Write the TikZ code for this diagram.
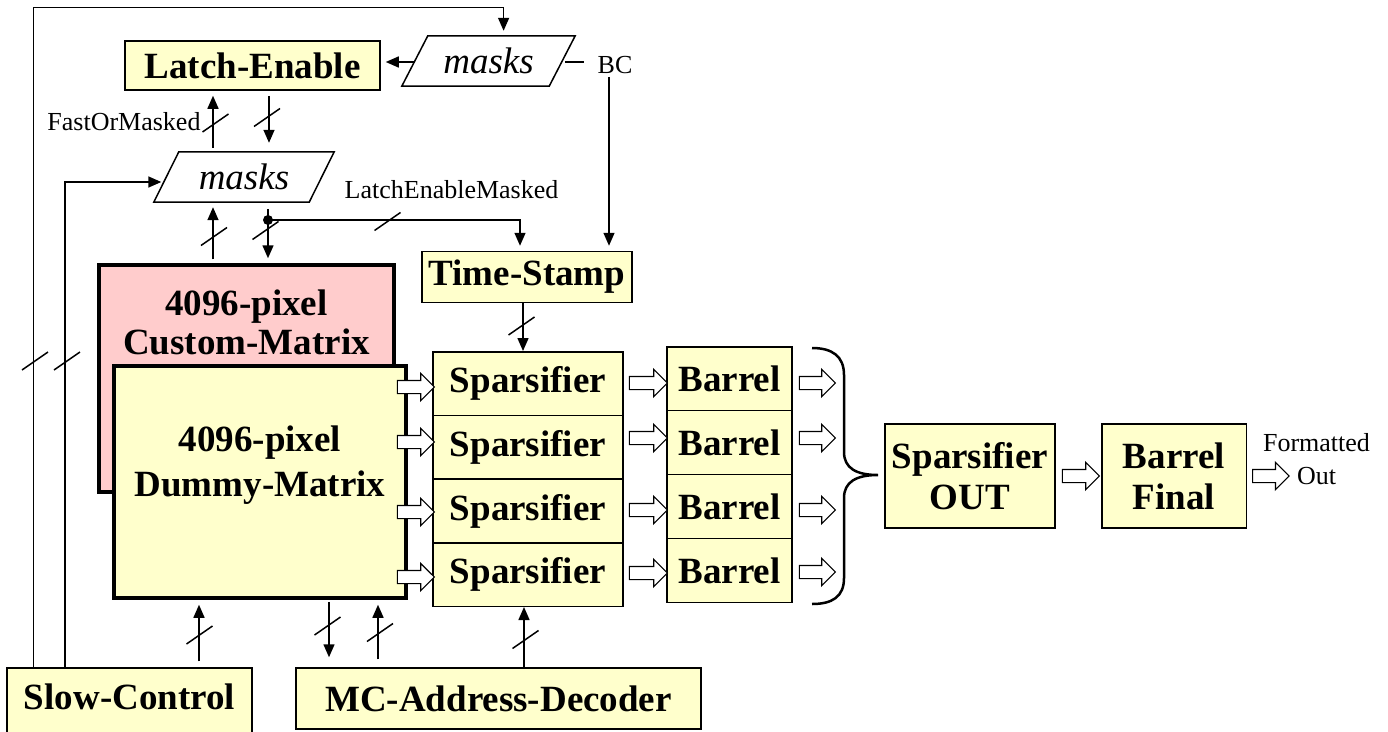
\documentclass[tikz,border=0pt]{standalone}
\usepackage{fontspec}
\setmainfont{Liberation Serif}
\usetikzlibrary{arrows.meta,shapes.arrows,calc}
\definecolor{yfill}{HTML}{FFFFCC}
\definecolor{pfill}{HTML}{FFCCCC}
\begin{document}
\begin{tikzpicture}[x=1pt,y=-1pt,
 box/.style={draw=black, fill=yfill, line width=1.5pt, inner sep=0pt, align=center, font=\bfseries\fontsize{37}{41}\selectfont},
 bigbox/.style={draw=black, line width=3.5pt, inner sep=0pt},
 bigtxt/.style={font=\bfseries\fontsize{37}{#1}\selectfont, align=center, inner sep=0pt},
 txt/.style={font=\fontsize{26}{33}\selectfont, align=center, inner sep=0pt},
 mtxt/.style={font=\itshape\fontsize{37}{40}\selectfont, inner sep=0pt, minimum width=#1, minimum height=50pt},
 arr/.style={line width=1.5pt, -{Triangle[length=13pt,width=11pt]}, shorten >=5pt},
 ln/.style={line width=1.5pt},
 blk/.style={single arrow, draw=black, fill=white, line width=1.2pt, minimum height=#1, single arrow head extend=7pt, single arrow head indent=0pt, inner xsep=0pt, inner ysep=6pt, text height=0pt, text depth=0pt, anchor=west},
 sl/.pic={\draw[line width=1.5pt] (-13,9)--(13,-9);}
]
\useasboundingbox (0,0) rectangle (1388,731);

% boxes
\node[box, minimum width=255pt, minimum height=49pt] (le) at (252.5,65.5) {Latch-Enable};
\node[mtxt=147pt] (m1) at (488.5,61) {masks};
\draw[ln] ([xshift=-13pt]m1.south west) -- ([xshift=13pt]m1.north west) -- ([xshift=13pt]m1.north east) -- ([xshift=-13pt]m1.south east) -- cycle;
\node[mtxt=155pt] (m2) at (244,177) {masks};
\draw[ln] ([xshift=-12.5pt]m2.south west) -- ([xshift=12.5pt]m2.north west) -- ([xshift=12.5pt]m2.north east) -- ([xshift=-12.5pt]m2.south east) -- cycle;
\node[txt] (bc) at (615,65) {BC};
\node[box, minimum width=210pt, minimum height=51pt] (ts) at (527,277) {Time-Stamp};

\node[bigbox, fill=pfill, minimum width=295pt, minimum height=227pt] (cm) at (246.5,378.5) {};
\node[bigtxt=39] (cmt) at (246.5,322) {4096-pixel\\Custom-Matrix};
\node[bigbox, fill=yfill, minimum width=292pt, minimum height=232pt] (dm) at (260,482) {};
\node[bigtxt=45] (dmt) at (260,465.5) {4096-pixel\\Dummy-Matrix};

\foreach \i/\y in {1/383.5,2/447,3/511,4/574.5}
  \node[box, minimum width=190pt, minimum height=63.5pt] (sp\i) at (528,\y) {Sparsifier};
\foreach \i/\y in {1/379,2/442.5,3/506.5,4/570.5}
  \node[box, minimum width=125pt, minimum height=63.75pt] (b\i) at (729.5,\y) {Barrel};

\node[box, minimum width=170pt, minimum height=104pt] (spo) at (970,476) {Sparsifier\\OUT};
\node[box, minimum width=144.5pt, minimum height=104pt] (bf) at (1174,476) {Barrel\\Final};
\node[txt] (fo) at (1316.5,459.5) {Formatted\\Out};
\node[box, minimum width=245pt, minimum height=70pt, text depth=12pt] (sc) at (129.5,703) {Slow-Control};
\node[box, minimum width=405pt, minimum height=61pt] (mc) at (498.5,698.5) {MC-Address-Decoder};

% feedback lines from slow control
\draw[arr] (sc.north -| 33.5,0) |- (503.6,7.3) -- (m1.north -| 503.6,0);
\draw[arr] (sc.north -| 65,0) |- (m2.west |- 0,182);
\pic at (35,361) {sl};
\pic at (67,361) {sl};

% masks -> latch enable, BC
\draw[arr] (m1.west |- 0,62) -- (le.east |- 0,62);
\draw[ln, shorten <=3pt, shorten >=13pt] (m1.east |- 0,62) -- (bc.west |- 0,62);
\draw[arr, shorten <=3pt] (bc.south -| 609,0) -- (ts.north -| 609,0);

% latch enable <-> masks
\draw[arr, shorten <=4pt] (m2.north -| 213,0) -- (le.south -| 213,0);
\pic at (215.5,123) {sl};
\node[txt] (fom) at (124,122) {FastOrMasked};
\draw[arr, shorten <=5pt, shorten >=9pt] (le.south -| 269,0) -- (m2.north -| 269,0);
\pic at (267,117.5) {sl};

% masks <-> custom matrix
\draw[arr, shorten <=4pt] (cm.north -| 213,0) -- (m2.south -| 213,0);
\pic at (214,236.5) {sl};
\draw[arr, shorten <=7pt] (m2.south -| 268,0) -- (cm.north -| 268,0);
\pic at (265.5,230.5) {sl};
\coordinate (dot) at (268,220);
\fill (dot) circle (5pt);
\draw[arr] (dot) -| (ts.north -| 520,0);
\pic at (387.5,221.5) {sl};
\node[txt] (lem) at (451.5,190) {LatchEnableMasked};

% time stamp -> sparsifier
\draw[arr, shorten >=0pt] (ts.south -| 523,0) -- (sp1.north -| 523,0);
\pic at (521.5,326) {sl};

% bottom connections
\draw[arr, shorten <=6pt] (sc.north -| 199,0) -- (dm.south -| 199,0);
\pic at (199.5,635) {sl};
\draw[arr, shorten <=2pt, shorten >=10pt] (dm.south -| 329,0) -- (mc.north -| 329,0);
\pic at (327.5,626) {sl};
\draw[arr, shorten <=8pt] (mc.north -| 378,0) -- (dm.south -| 378,0);
\pic at (380,632.5) {sl};
\draw[arr, shorten >=0pt] (mc.north -| 524,0) -- (sp4.south -| 524,0);
\pic at (525.5,639.5) {sl};

% block arrows
\foreach \i/\y in {1/387,2/442,3/512,4/577}
  \node[blk=37pt] (da\i) at (dm.east |- 0,\y) [xshift=-11pt] {};
\foreach \i/\y in {1/383,2/438,3/510,4/573}
  \node[blk=38pt] (sa\i) at (sp\i.east |- 0,\y) [xshift=5pt] {};
\foreach \i/\y in {1/383,2/438,3/510,4/572}
  \node[blk=36pt] (ba\i) at (b\i.east |- 0,\y) [xshift=6pt] {};
\node[blk=37pt] (oa1) at (spo.east) [xshift=6pt] {};
\node[blk=36.5pt] (oa2) at (bf.east) [xshift=5pt] {};

% brace
\draw[line width=2.5pt] (812,348) .. controls (832,348) and (844,356) .. (844,375) -- (844,452) .. controls (844,468) and (856,475) .. (878,475) .. controls (856,475) and (844,482) .. (844,498) -- (844,578) .. controls (844,597) and (832,604) .. (812,604);
\end{tikzpicture}
\end{document}
